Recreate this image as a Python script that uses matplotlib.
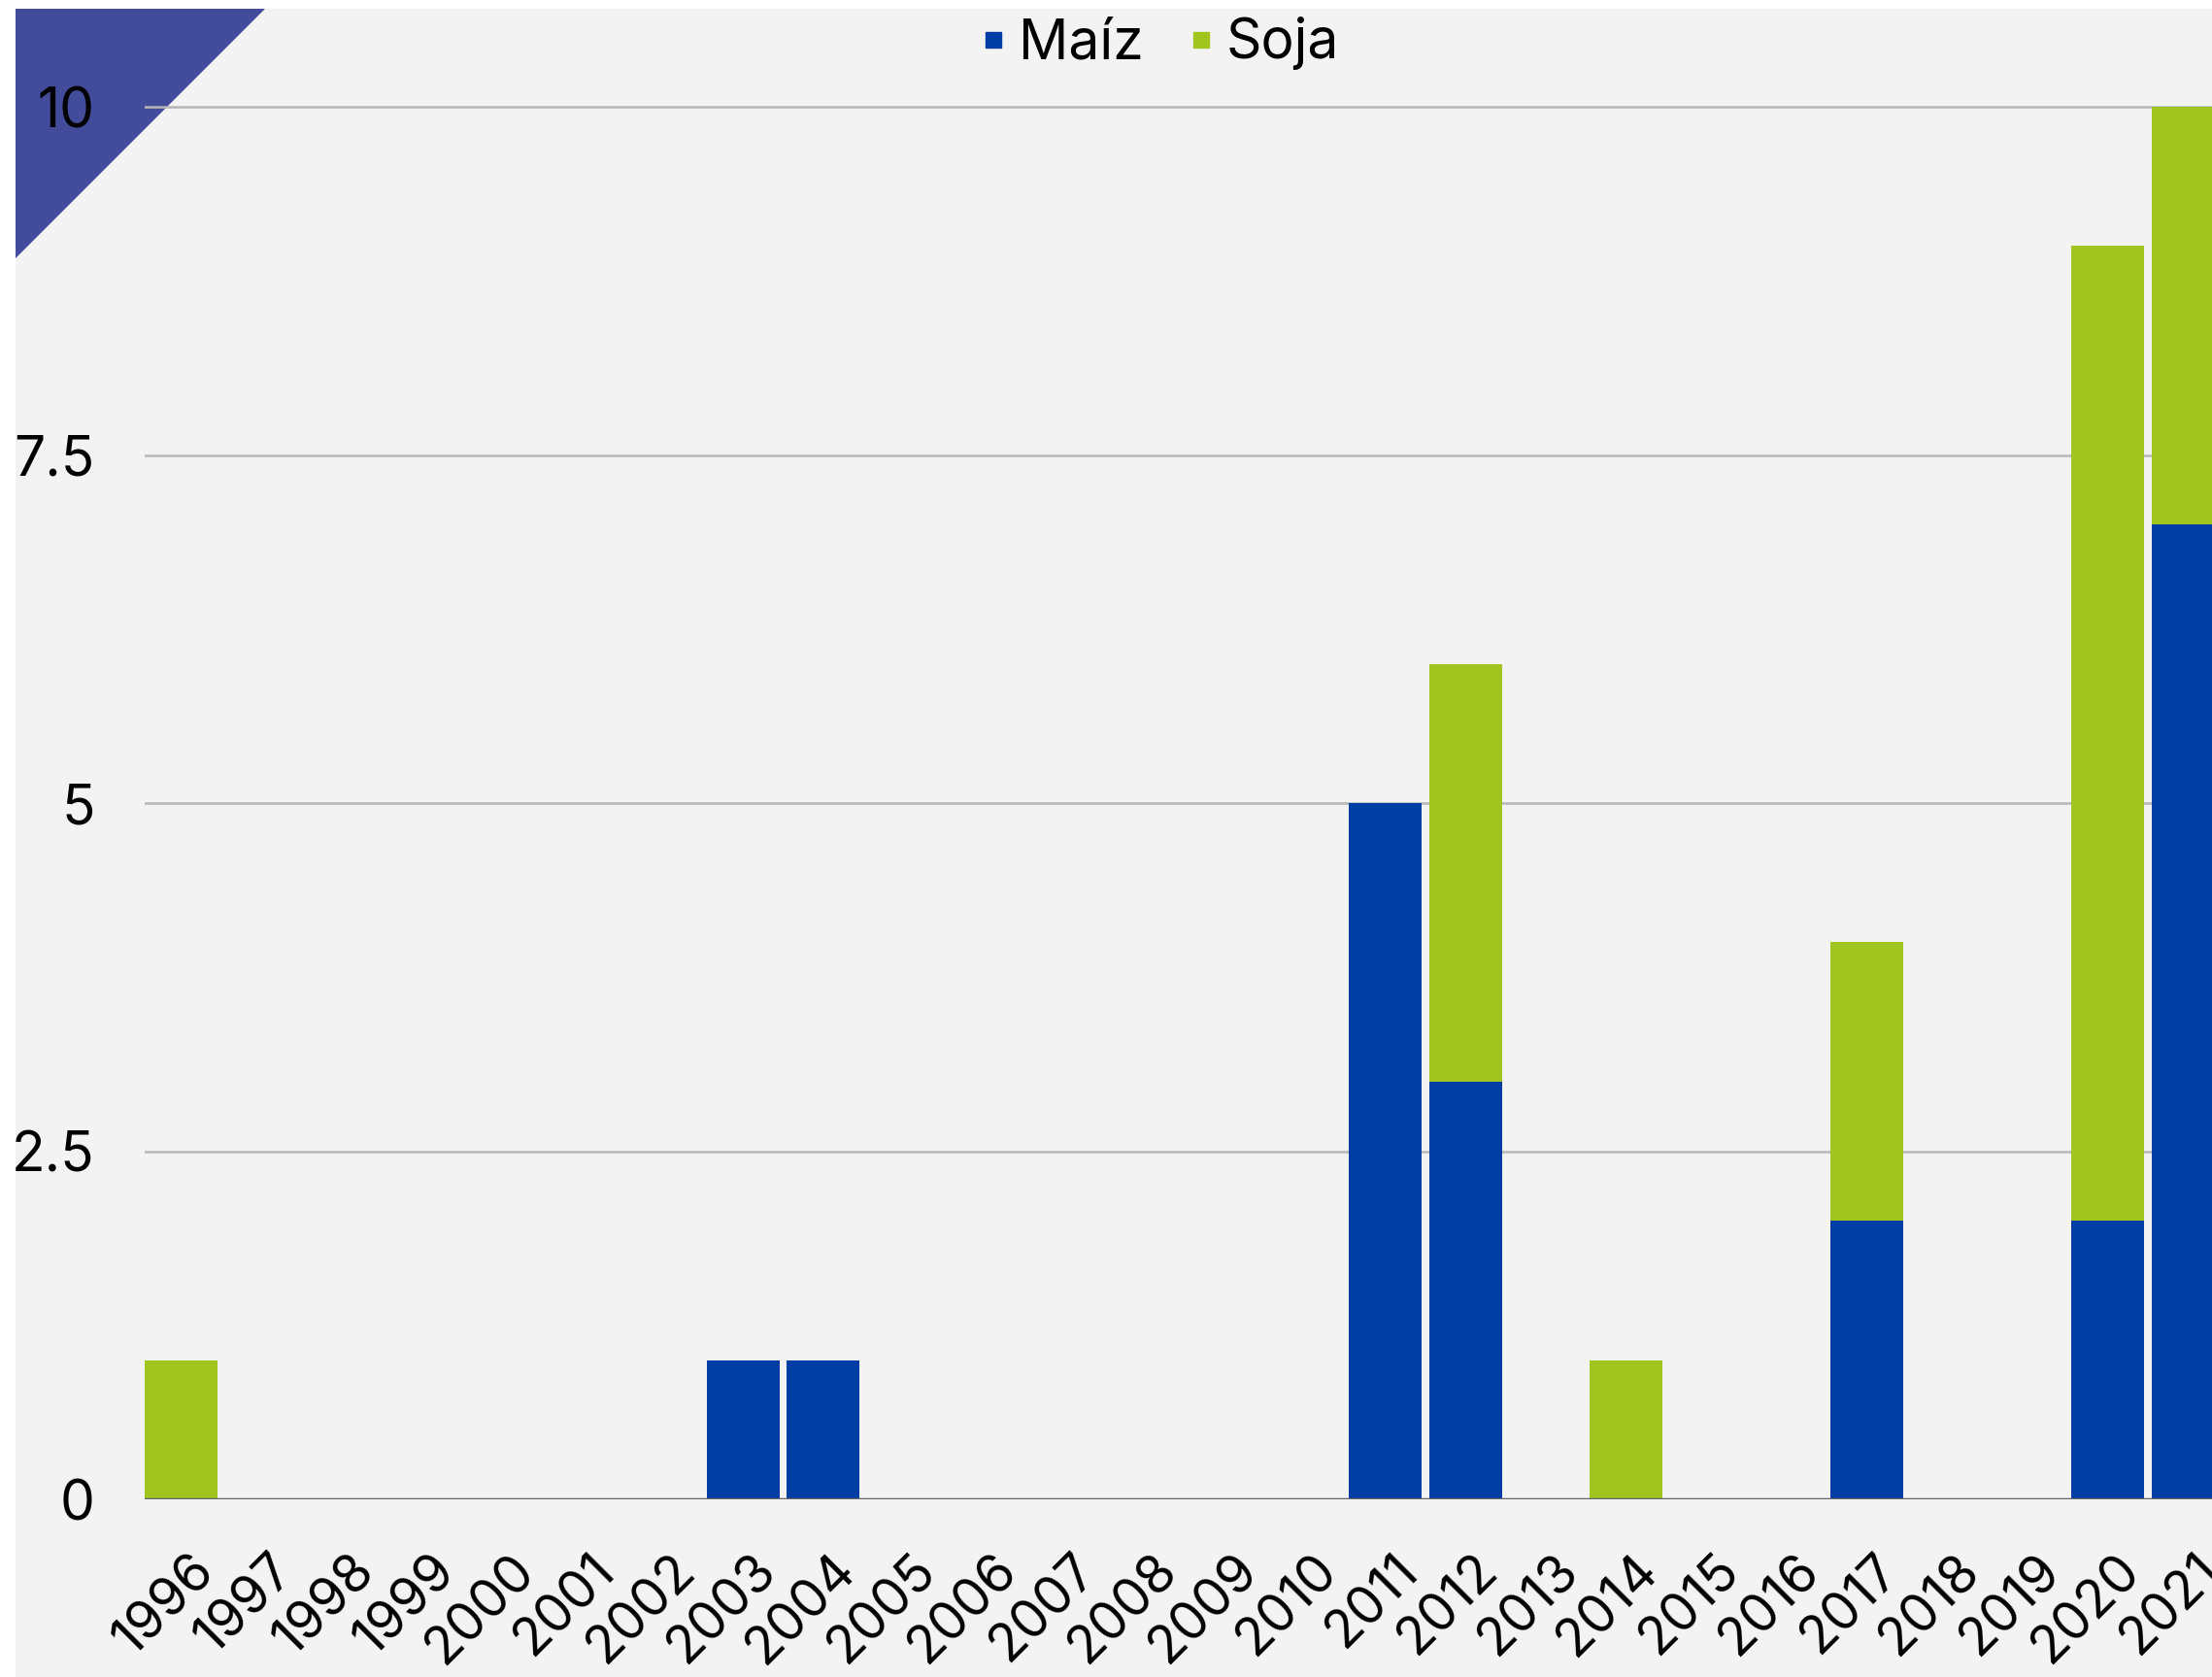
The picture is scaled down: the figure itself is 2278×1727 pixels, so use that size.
import matplotlib
matplotlib.use("Agg")
import matplotlib.pyplot as plt
from matplotlib.patches import Rectangle, Polygon
from matplotlib.lines import Line2D
from matplotlib.transforms import ScaledTranslation

years = [str(y) for y in range(1996, 2022)]
maiz = [0, 0, 0, 0, 0, 0, 0, 1, 1, 0, 0, 0, 0, 0, 0, 5, 3, 0, 0, 0, 0, 2, 0, 0, 2, 7]
soja = [1, 0, 0, 0, 0, 0, 0, 0, 0, 0, 0, 0, 0, 0, 0, 0, 3, 0, 1, 0, 0, 2, 0, 0, 7, 3]
yticks = [0, 2.5, 5, 7.5, 10]
ytick_labels = ["0", "2.5", "5", "7.5", "10"]
series_names = ["Maíz", "Soja"]

BLUE = "#003da5"
GREEN = "#a1c41e"
FONT = ["Inter", "DejaVu Sans"]
plt.rcParams["font.family"] = FONT

W, H = 2278, 1727
fig = plt.figure(figsize=(W / 100, H / 100), dpi=100)
fig.patch.set_facecolor("white")

# gray panel and corner triangle (figure coordinates)
fig.patches.append(Rectangle((16 / W, 0), 1, 1 - 9 / H, transform=fig.transFigure,
                             facecolor="#f3f3f3", edgecolor="none", zorder=0))
fig.patches.append(Polygon([(16 / W, 1 - 9 / H), (273 / W, 1 - 9 / H), (16 / W, 1 - 266 / H)],
                           closed=True, transform=fig.transFigure,
                           facecolor="#434b9b", edgecolor="none", zorder=1))

slot = 82.67
bw = 75 / slot
left_px, zero_px, ten_px = 149, 1544, 110
ytop = 10.3
right_px = left_px + 25 * slot + 75
ax_h_px = (zero_px - ten_px) / 10 * ytop
ax = fig.add_axes([left_px / W, 1 - zero_px / H, (right_px - left_px) / W, ax_h_px / H])
ax.set_facecolor("none")
ax.set_zorder(2)

x = list(range(len(years)))
ax.bar(x, maiz, width=bw, color=BLUE, zorder=2, label=series_names[0])
ax.bar(x, soja, width=bw, bottom=maiz, color=GREEN, zorder=2, label=series_names[1])

ax.set_xlim(-bw / 2, 25 + bw / 2)
ax.set_ylim(0, ytop)
for s in ax.spines.values():
    s.set_visible(False)
ax.set_yticks(yticks)
ax.set_yticklabels(ytick_labels)
ax.yaxis.grid(True, color="#b7b7b7", linewidth=1.8, zorder=1)
ax.set_axisbelow(True)
ax.axhline(0, color="#666666", linewidth=2.5, zorder=3)
ax.tick_params(axis="y", length=0, pad=37, labelsize=41, labelcolor="black")
ax.tick_params(axis="x", length=0, pad=34, labelsize=39, labelcolor="black")
ax.set_xticks(x)
ax.set_xticklabels(years, rotation=45, ha="right", va="top", rotation_mode="anchor")
offset = ScaledTranslation(0.08, 0, fig.dpi_scale_trans)
for lab in ax.get_xticklabels():
    lab.set_transform(lab.get_transform() + offset)

handles = [Line2D([], [], linestyle="none", marker="s", markersize=11, color=BLUE),
           Line2D([], [], linestyle="none", marker="s", markersize=11, color=GREEN)]
fig.legend(handles, series_names, loc="center", bbox_to_anchor=(1194 / W, 1 - 45 / H),
           ncol=2, frameon=False, fontsize=41, handlelength=0.5, handletextpad=0.2,
           columnspacing=0.8, borderaxespad=0, borderpad=0)

fig.savefig("out.png", dpi=100, facecolor="white")
